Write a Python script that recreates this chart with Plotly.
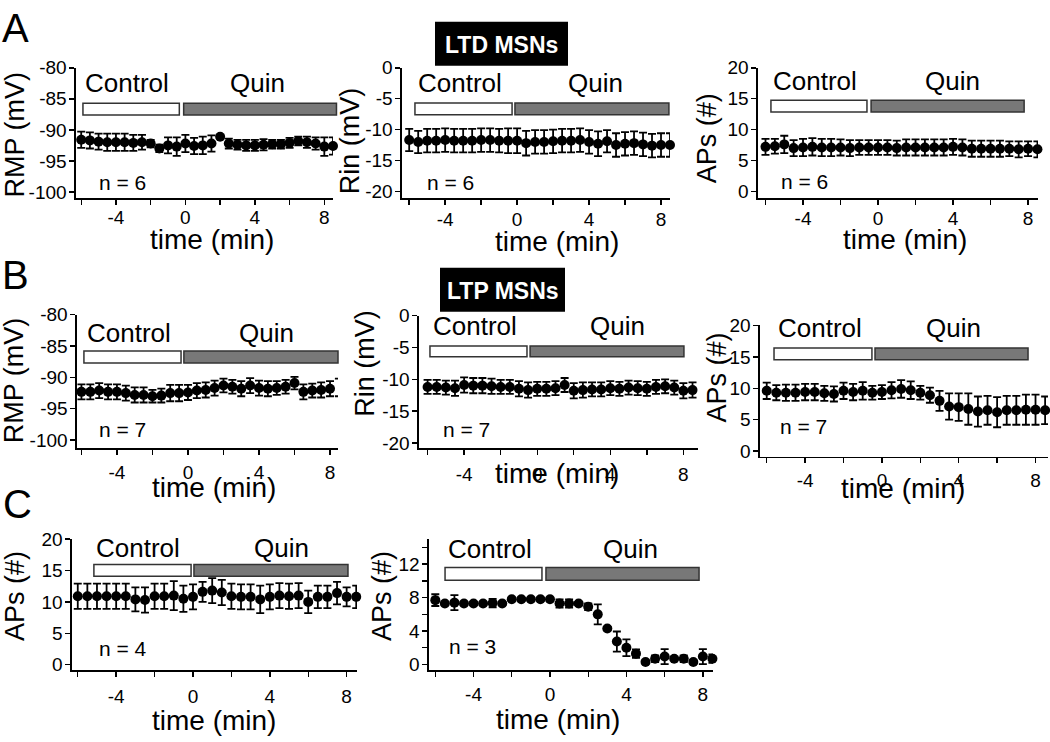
import plotly.graph_objects as go

W, H = 1050, 742
FONT = "Liberation Sans, Arial, Helvetica, sans-serif"

# ---------------- data ----------------
time_min = [-6.0, -5.5, -5.0, -4.5, -4.0, -3.5, -3.0, -2.5, -2.0, -1.5,
            -1.0, -0.5, 0.0, 0.5, 1.0, 1.5, 2.0, 2.5, 3.0, 3.5,
            4.0, 4.5, 5.0, 5.5, 6.0, 6.5, 7.0, 7.5, 8.0, 8.5]

ltd_rmp = [-91.6, -91.7, -91.9, -92.0, -92.0, -92.0, -92.1, -92.0, -92.2, -93.0,
           -92.5, -92.7, -92.2, -92.6, -92.5, -92.2, -91.1, -92.2, -92.4, -92.5,
           -92.5, -92.4, -92.3, -92.3, -92.1, -91.8, -92.0, -92.2, -92.7, -92.6]
ltd_rmp_sem = [1.3, 1.3, 1.3, 1.4, 1.4, 1.4, 1.3, 1.2, 0.6, 0.6,
               1.3, 1.5, 1.4, 1.3, 1.4, 1.3, 0.3, 0.8, 0.8, 0.9,
               0.9, 0.9, 0.7, 0.7, 0.8, 0.7, 0.9, 1.0, 1.5, 1.4]

ltd_rin = [-11.7, -12.0, -11.8, -11.8, -11.7, -11.8, -11.8, -11.8, -11.7, -11.7,
           -11.8, -11.8, -11.8, -12.2, -12.0, -12.0, -11.9, -11.8, -11.8, -11.7,
           -12.0, -12.3, -11.9, -12.5, -12.3, -12.2, -12.4, -12.6, -12.5, -12.5]
ltd_rin_sem = [1.8, 1.8, 1.9, 1.9, 1.9, 1.9, 1.9, 1.9, 1.9, 1.9,
               1.9, 2.0, 2.0, 2.0, 1.9, 1.9, 1.9, 1.9, 1.9, 1.9,
               1.9, 2.0, 1.8, 1.9, 1.9, 1.9, 1.9, 1.9, 1.9, 1.9]

ltd_aps = [7.2, 7.3, 7.6, 7.0, 7.1, 7.2, 7.1, 7.1, 7.1, 7.0,
           7.1, 7.1, 7.1, 7.1, 7.0, 7.1, 7.1, 7.1, 7.1, 7.1,
           7.2, 7.1, 6.9, 6.9, 6.9, 6.9, 6.9, 6.8, 6.9, 6.8]
ltd_aps_sem = [1.3, 1.2, 1.4, 1.3, 1.4, 1.4, 1.4, 1.4, 1.3, 1.3,
               1.2, 1.2, 1.2, 1.2, 1.2, 1.3, 1.3, 1.3, 1.3, 1.3,
               1.3, 1.3, 1.3, 1.3, 1.3, 1.3, 1.2, 1.3, 1.2, 1.3]

ltp_rmp = [-92.3, -92.3, -92.1, -92.3, -92.3, -92.5, -92.8, -92.8, -93.0, -92.9,
           -92.5, -92.5, -92.4, -92.1, -92.0, -91.7, -91.3, -91.5, -91.8, -91.3,
           -91.7, -91.8, -91.7, -91.5, -90.9, -92.3, -92.1, -92.0, -91.8, -91.6]
ltp_rmp_sem = [1.2, 1.2, 1.2, 1.2, 1.2, 1.2, 1.2, 1.2, 1.0, 1.1,
               1.3, 1.3, 1.2, 1.2, 1.2, 1.2, 1.1, 1.1, 1.2, 1.2,
               1.2, 1.2, 1.1, 1.1, 1.0, 1.2, 1.1, 1.2, 1.2, 1.4]

ltp_rin = [-11.2, -11.2, -11.3, -11.4, -10.9, -11.0, -11.0, -11.1, -11.2, -11.2,
           -11.5, -11.7, -11.5, -11.5, -11.4, -10.9, -11.8, -11.7, -11.6, -11.6,
           -11.4, -11.5, -11.3, -11.4, -11.5, -11.2, -11.1, -11.3, -11.8, -11.7]
ltp_rin_sem = [1.1, 1.1, 1.1, 1.2, 1.2, 1.2, 1.2, 1.2, 1.1, 1.1,
               1.2, 1.2, 1.1, 1.1, 1.1, 1.1, 1.2, 1.2, 1.1, 1.1,
               1.1, 1.1, 1.1, 1.1, 1.1, 1.1, 1.1, 1.1, 1.2, 1.2]

ltp_aps = [9.6, 9.3, 9.3, 9.3, 9.4, 9.4, 9.2, 9.1, 9.6, 9.4,
           9.6, 9.3, 9.4, 9.7, 9.9, 9.7, 9.3, 8.9, 8.0, 7.1,
           7.0, 6.7, 6.3, 6.5, 6.2, 6.5, 6.5, 6.6, 6.6, 6.5]
ltp_aps_sem = [1.3, 1.2, 1.3, 1.3, 1.3, 1.3, 1.2, 1.2, 1.3, 1.3,
               1.4, 1.1, 1.1, 1.3, 1.4, 1.4, 1.1, 1.2, 1.6, 2.1,
               2.2, 2.5, 2.4, 2.3, 2.4, 2.3, 2.3, 2.4, 2.4, 2.2]

c_aps = [10.9, 10.9, 10.9, 10.9, 10.9, 10.9, 10.4, 10.3, 10.9, 10.9,
         11.0, 10.5, 10.8, 11.6, 11.8, 11.5, 10.9, 10.8, 10.8, 10.4,
         10.8, 11.0, 10.9, 11.0, 10.0, 10.8, 10.8, 11.4, 10.8, 10.8]
c_aps_sem = [2.0, 2.0, 2.0, 2.0, 2.0, 2.0, 1.9, 2.0, 2.0, 2.0,
             2.3, 2.1, 2.0, 1.6, 2.0, 2.0, 2.0, 2.0, 2.0, 2.2,
             2.0, 2.0, 2.0, 2.0, 1.8, 1.8, 1.8, 1.8, 1.5, 1.8]

c2_aps = [7.7, 7.3, 7.4, 7.3, 7.3, 7.3, 7.35, 7.3, 7.8, 7.8,
          7.8, 7.8, 7.8, 7.3, 7.3, 7.3, 6.9, 6.0, 4.3, 2.75,
          2.0, 1.3, 0.3, 0.7, 0.95, 0.7, 0.7, 0.3, 0.95, 0.7]
c2_aps_sem = [0.7, 0.2, 0.9, 0.2, 0.2, 0.2, 0.5, 0.2, 0.2, 0.2,
              0.2, 0.2, 0.2, 0.5, 0.5, 0.2, 0.4, 1.2, 0.2, 1.2,
              1.0, 0.5, 0.2, 0.4, 0.9, 0.2, 0.4, 0.2, 0.9, 0.5]

x_tickvals = [-6, -4, -2, 0, 2, 4, 6, 8]
x_ticktext = ["", "-4", "", "0", "", "4", "", "8"]
rmp_ticks = [-100, -95, -90, -85, -80]
rin_ticks = [-20, -15, -10, -5, 0]
aps_ticks = [0, 5, 10, 15, 20]
aps_small_ticks = [0, 2, 4, 6, 8, 10, 12, 14]
aps_small_text = ["0", "", "4", "", "8", "", "12", ""]

# ---------------- panel layout (pixel geometry) ----------------
panels = [
    dict(y=ltd_rmp, e=ltd_rmp_sem, box=(76, 333, 59, 192), xr=(-6.3, 8.5), yr=(-101, -80),
         yt=rmp_ticks, ytt=None, ytitle="RMP (mV)", ytp=(15, 127), xtp=(212, 234), tlo=15,
         ctrl=(-5.9, -0.35), quin=(-0.1, 8.7), bar=(-87.6, -85.7),
         ctp=(127, 75), qtp=(257, 75), n="n = 6", np=(122, 176)),
    dict(y=ltd_rin, e=ltd_rin_sem, box=(402, 670, 59, 192), xr=(-6.4, 8.5), yr=(-21.1, 0),
         yt=rin_ticks, ytt=None, ytitle="Rin (mV)", ytp=(350, 134), xtp=(557, 236), tlo=17,
         ctrl=(-5.68, -0.28), quin=(-0.12, 8.44), bar=(-7.6, -5.7),
         ctp=(460, 75), qtp=(595, 75), n="n = 6", np=(450, 176)),
    dict(y=ltd_aps, e=ltd_aps_sem, box=(758, 1038, 59, 192), xr=(-6.4, 8.53), yr=(-1.1, 20),
         yt=aps_ticks, ytt=None, ytitle="APs (#)", ytp=(707, 131), xtp=(905, 234), tlo=16,
         ctrl=(-5.71, -0.59), quin=(-0.37, 7.79), bar=(12.86, 14.76),
         ctp=(815, 72), qtp=(952, 72), n="n = 6", np=(804, 175)),
    dict(y=ltp_rmp, e=ltp_rmp_sem, box=(77, 338, 311, 447), xr=(-6.25, 8.45), yr=(-101.25, -80),
         yt=rmp_ticks, ytt=None, ytitle="RMP (mV)", ytp=(14, 378), xtp=(214, 487), tlo=21,
         ctrl=(-5.86, -0.39), quin=(-0.23, 8.45), bar=(-87.7, -85.8),
         ctp=(129, 330), qtp=(266, 330), n="n = 7", np=(122, 428)),
    dict(y=ltp_rin, e=ltp_rin_sem, box=(419, 698, 312, 447), xr=(-6.47, 8.8), yr=(-20.8, 0),
         yt=rin_ticks, ytt=None, ytitle="Rin (mV)", ytp=(365, 361), xtp=(557, 473), tlo=23,
         ctrl=(-5.87, -0.56), quin=(-0.39, 8.03), bar=(-6.47, -4.78),
         ctp=(475, 323), qtp=(617, 323), n="n = 7", np=(466, 428)),
    dict(y=ltp_aps, e=ltp_aps_sem, box=(760, 1048, 322, 456), xr=(-6.35, 8.65), yr=(-0.9, 20),
         yt=aps_ticks, ytt=None, ytitle="APs (#)", ytp=(717, 375), xtp=(903, 488), tlo=20,
         ctrl=(-5.62, -0.52), quin=(-0.36, 7.61), bar=(14.54, 16.41),
         ctp=(820, 325), qtp=(953, 325), n="n = 7", np=(803, 425)),
    dict(y=c_aps, e=c_aps_sem, box=(72, 357, 540, 674), xr=(-6.3, 8.54), yr=(-0.9, 20),
         yt=aps_ticks, ytt=None, ytitle="APs (#)", ytp=(15, 598), xtp=(214, 725), tlo=22,
         ctrl=(-5.16, -0.1), quin=(0.05, 8.07), bar=(14.07, 15.94),
         ctp=(138, 549), qtp=(281, 549), n="n = 4", np=(123, 652)),
    dict(y=c2_aps, e=c2_aps_sem, box=(429, 713, 540, 674), xr=(-6.33, 8.53), yr=(-0.7, 15),
         yt=aps_small_ticks, ytt=aps_small_text, ytitle="APs (#)", ytp=(382, 598), xtp=(558, 724), tlo=20,
         ctrl=(-5.49, -0.42), quin=(-0.21, 7.8), bar=(10.08, 11.6),
         ctp=(490, 550), qtp=(630, 550), n="n = 3", np=(472, 650)),
]

fig = go.Figure()
annotations = []
shapes = []


def px(xp):
    return xp / W


def py(yp):
    return 1 - yp / H


for i, p in enumerate(panels):
    k = "" if i == 0 else str(i + 1)
    x0, x1, yt0, yb0 = p["box"]
    xr, yr = p["xr"], p["yr"]

    fig.add_trace(go.Scatter(
        x=time_min, y=p["y"], mode="markers",
        marker=dict(color="black", size=10),
        error_y=dict(type="data", array=p["e"], visible=True, color="black", thickness=1.8, width=4),
        xaxis="x" + k, yaxis="y" + k, showlegend=False, cliponaxis=False, hoverinfo="skip",
    ))

    common = dict(showline=True, linecolor="black", linewidth=1.6, ticks="outside",
                  ticklen=5, tickwidth=1.4, tickcolor="black", showgrid=False,
                  zeroline=False, tickfont=dict(family=FONT, size=19, color="black"))
    fig.update_layout(**{
        "xaxis" + k: dict(domain=[px(x0), px(x1)], range=list(xr), anchor="y" + k,
                          tickvals=x_tickvals, ticktext=x_ticktext,
                          ticklabelstandoff=p["tlo"] - 19, **common),
        "yaxis" + k: dict(domain=[py(yb0), py(yt0)], range=list(yr), anchor="x" + k,
                          tickvals=p["yt"], ticktext=p["ytt"] if p["ytt"] else
                          [str(v) for v in p["yt"]], ticklabelstandoff=-1, **common),
    })

    def to_paper(t, v):
        xp = x0 + (t - xr[0]) / (xr[1] - xr[0]) * (x1 - x0)
        yp = yb0 - (v - yr[0]) / (yr[1] - yr[0]) * (yb0 - yt0)
        return px(xp), py(yp)

    for (s, e_), fill in ((p["ctrl"], "white"), (p["quin"], "#787878")):
        ax0, ay0 = to_paper(s, p["bar"][0])
        ax1, ay1 = to_paper(e_, p["bar"][1])
        shapes.append(dict(type="rect", xref="paper", yref="paper", x0=ax0, x1=ax1, y0=ay0, y1=ay1,
                           fillcolor=fill, line=dict(color="#333333", width=1.5)))

    def txt(text, pos, size, angle=0):
        annotations.append(dict(text=text, x=px(pos[0]), y=py(pos[1]), xref="paper", yref="paper",
                                xanchor="center", yanchor="middle", showarrow=False, textangle=angle,
                                font=dict(family=FONT, size=size, color="black")))

    txt("Control", p["ctp"], 26)
    txt("Quin", p["qtp"], 26)
    txt(p["n"], p["np"], 21)
    txt("time (min)", p["xtp"], 28)
    txt(p["ytitle"], p["ytp"], 27, angle=-90)

# panel letters
for letter, pos in (("A", (15, 18)), ("B", (15, 270)), ("C", (17, 504))):
    annotations.append(dict(text=letter, x=px(pos[0]), y=py(pos[1]), xref="paper", yref="paper",
                            xanchor="center", yanchor="middle", showarrow=False,
                            font=dict(family=FONT, size=40, color="black")))

# black title boxes
for label, (bx0, bx1, by0, by1) in (("LTD MSNs", (435, 568, 12, 57)), ("LTP MSNs", (440, 565, 263, 308))):
    shapes.append(dict(type="rect", xref="paper", yref="paper", x0=px(bx0), x1=px(bx1),
                       y0=py(by1), y1=py(by0), fillcolor="black", line=dict(width=0)))
    annotations.append(dict(text="<b>" + label + "</b>", x=px((bx0 + bx1) / 2), y=py((by0 + by1) / 2 + 1),
                            xref="paper", yref="paper", xanchor="center", yanchor="middle",
                            showarrow=False, font=dict(family=FONT, size=23, color="white")))

fig.update_layout(width=W, height=H, margin=dict(l=0, r=0, t=0, b=0),
                  paper_bgcolor="white", plot_bgcolor="white", hovermode=False,
                  annotations=annotations, shapes=shapes, showlegend=False)

fig.write_html("out.html", config={"displayModeBar": False, "staticPlot": True},
               post_script="document.body.style.margin='0px';document.body.style.overflow='hidden';")
